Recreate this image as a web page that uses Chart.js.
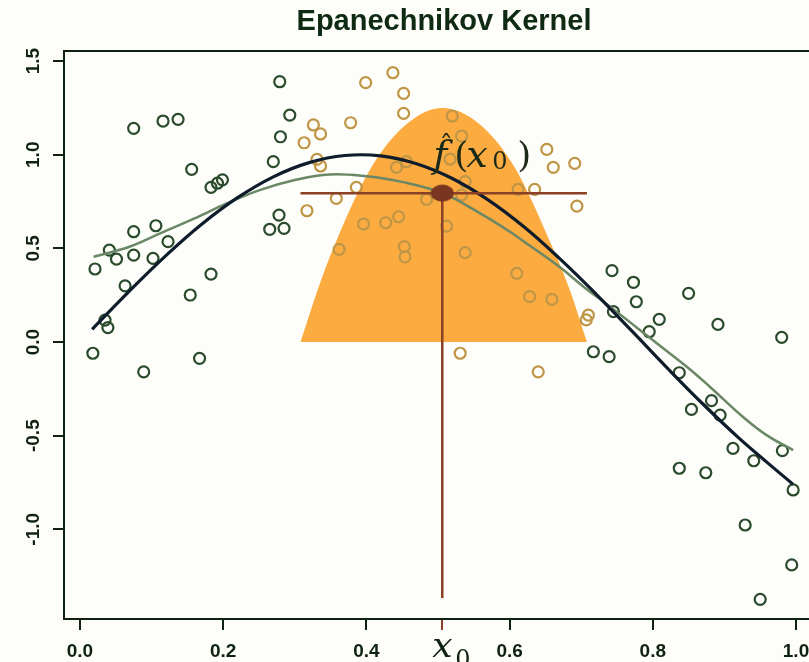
<!DOCTYPE html>
<html>
<head>
<meta charset="utf-8">
<title>Epanechnikov Kernel</title>
<script src="https://cdn.jsdelivr.net/npm/chart.js@4.4.1/dist/chart.umd.min.js"></script>
<style>
  html, body { margin: 0; padding: 0; background: #fdfdf9; overflow: hidden; }
  canvas { display: block; }
</style>
</head>
<body>
<canvas id="kernelChart" width="809" height="662"></canvas>
<script>
// axis ticks
const xTicks = [0, 0.2, 0.4, 0.6, 0.8, 1.0];
const yTicks = [-1.0, -0.5, 0, 0.5, 1.0, 1.5];

// target point and local estimate
const x0 = 0.506;
const fHatX0 = 0.795;
const windowLo = 0.308;
const windowHi = 0.708;
const lineBottom = -1.367;

// observations outside the kernel window (green)
const outsideX = [0.279, 0.293, 0.280, 0.270, 0.075, 0.116, 0.137, 0.156, 0.183, 0.192, 0.199,
  0.278, 0.265, 0.285, 0.075, 0.106, 0.123, 0.041, 0.051, 0.075, 0.102, 0.021, 0.063, 0.183,
  0.154, 0.035, 0.039, 0.018, 0.089, 0.167, 0.717, 0.739, 0.743, 0.773, 0.777, 0.745, 0.850,
  0.809, 0.795, 0.891, 0.980, 0.837, 0.854, 0.882, 0.894, 0.912, 0.941, 0.981, 0.996, 0.837,
  0.874, 0.929, 0.994, 0.950];
const outsideY = [1.390, 1.212, 1.096, 0.963, 1.141, 1.180, 1.189, 0.922, 0.826, 0.848, 0.866,
  0.678, 0.602, 0.607, 0.589, 0.621, 0.536, 0.491, 0.443, 0.464, 0.447, 0.390, 0.300, 0.363,
  0.251, 0.117, 0.077, -0.060, -0.159, -0.087, -0.052, -0.078, 0.381, 0.319, 0.215, 0.162, 0.260,
  0.121, 0.055, 0.094, 0.025, -0.164, -0.360, -0.313, -0.390, -0.568, -0.634, -0.580, -0.790, -0.674,
  -0.698, -0.977, -1.190, -1.374];

// observations inside the kernel window (orange)
const insideX = [0.437, 0.399, 0.452, 0.452, 0.378, 0.326, 0.336, 0.313, 0.520, 0.533, 0.517,
  0.331, 0.336, 0.442, 0.456, 0.538, 0.652, 0.661, 0.691, 0.386, 0.358, 0.317, 0.484, 0.533,
  0.612, 0.635, 0.694, 0.396, 0.427, 0.445, 0.512, 0.453, 0.454, 0.362, 0.538, 0.610, 0.628,
  0.659, 0.710, 0.707, 0.531, 0.640];
const insideY = [1.438, 1.385, 1.328, 1.221, 1.171, 1.159, 1.111, 1.064, 1.207, 1.100, 0.977,
  0.975, 0.940, 0.933, 0.963, 0.856, 1.029, 0.933, 0.954, 0.826, 0.767, 0.701, 0.762, 0.785,
  0.815, 0.815, 0.726, 0.630, 0.637, 0.669, 0.619, 0.509, 0.455, 0.495, 0.477, 0.367, 0.242,
  0.228, 0.144, 0.118, -0.060, -0.159];

// kernel weights (scaled) over the window
const kernelX = [0.308, 0.333, 0.358, 0.408, 0.458, 0.506, 0.556, 0.606, 0.656, 0.683, 0.708];
const kernelY = [0.00, 0.29, 0.54, 0.94, 1.17, 1.25, 1.17, 0.94, 0.54, 0.29, 0.00];

// true function (dark curve)
const trueX = [0.017, 0.07, 0.123, 0.17, 0.219, 0.27, 0.32, 0.37, 0.42, 0.47, 0.52, 0.57,
  0.62, 0.67, 0.72, 0.77, 0.82, 0.87, 0.92, 0.96, 0.996];
const trueY = [0.068, 0.276, 0.472, 0.629, 0.768, 0.882, 0.958, 0.996, 0.994, 0.952, 0.873,
  0.759, 0.615, 0.445, 0.259, 0.062, -0.138, -0.331, -0.512, -0.644, -0.760];

// kernel smoother fit (green curve)
const smoothX = [0.019, 0.07, 0.112, 0.16, 0.205, 0.25, 0.30, 0.349, 0.40, 0.45, 0.506, 0.559,
  0.60, 0.628, 0.67, 0.705, 0.74, 0.78, 0.81, 0.85, 0.88, 0.926, 0.96, 0.996];
const smoothY = [0.455, 0.51, 0.58, 0.66, 0.74, 0.81, 0.865, 0.895, 0.885, 0.855, 0.795, 0.687,
  0.59, 0.515, 0.40, 0.29, 0.19, 0.07, -0.02, -0.14, -0.24, -0.40, -0.50, -0.577];

const inkColor = '#0f2212';
const brown = '#8a4126';
const titleText = 'Epanechnikov Kernel';

function pts(xs, ys) {
  return xs.map((x, i) => ({ x: x, y: ys[i] }));
}

// filled ellipse marker for f-hat(x0)
const dotMarker = document.createElement('canvas');
dotMarker.width = 24;
dotMarker.height = 18;
(function () {
  const c = dotMarker.getContext('2d');
  c.fillStyle = '#7a3520';
  c.beginPath();
  c.ellipse(12, 9, 11.5, 8.5, 0, 0, Math.PI * 2);
  c.fill();
})();

// title, frame lines to the edge, rotated y labels, x0 and f-hat labels
const annotations = {
  id: 'annotations',
  afterDraw(chart) {
    const ctx = chart.ctx;
    const area = chart.chartArea;
    const xs = chart.scales.x;
    const ys = chart.scales.y;
    ctx.save();

    ctx.fillStyle = '#0f2a12';
    ctx.font = 'bold 29px "Liberation Sans", Arial, sans-serif';
    ctx.textAlign = 'center';
    ctx.textBaseline = 'middle';
    ctx.fillText(titleText, 444, 22);

    ctx.strokeStyle = inkColor;
    ctx.lineWidth = 2;
    ctx.beginPath();
    ctx.moveTo(area.left - 1, area.top);
    ctx.lineTo(chart.width, area.top);
    ctx.moveTo(area.right - 1, area.bottom);
    ctx.lineTo(chart.width, area.bottom);
    ctx.stroke();

    ctx.fillStyle = inkColor;
    ctx.font = 'bold 19px "Liberation Sans", Arial, sans-serif';
    ctx.textAlign = 'center';
    ctx.textBaseline = 'alphabetic';
    yTicks.forEach(v => {
      ctx.save();
      ctx.translate(39, ys.getPixelForValue(v));
      ctx.rotate(-Math.PI / 2);
      ctx.fillText(v.toFixed(1), 0, 0);
      ctx.restore();
    });

    // x0 label under the axis
    const px = xs.getPixelForValue(x0);
    ctx.textAlign = 'left';
    ctx.font = 'italic 36px "DejaVu Serif", serif';
    ctx.fillText('x', px - 10, 657);
    ctx.font = '24px "DejaVu Serif", serif';
    ctx.fillText('0', px + 13, 667);

    // f-hat(x0) label
    const py = ys.getPixelForValue(fHatX0);
    const base = py - 26;
    ctx.fillStyle = '#1a2a18';
    ctx.font = 'italic 38px "DejaVu Serif", serif';
    ctx.fillText('f', px - 9, base);
    ctx.font = '28px "DejaVu Serif", serif';
    ctx.textAlign = 'center';
    ctx.fillText('\u02C6', px + 4, base - 12);
    ctx.textAlign = 'left';
    ctx.font = '36px "DejaVu Serif", serif';
    ctx.fillText('(', px + 12, base);
    ctx.font = 'italic 38px "DejaVu Serif", serif';
    ctx.fillText('x', px + 24, base);
    ctx.font = '24px "DejaVu Serif", serif';
    ctx.fillText('0', px + 50, base + 2);
    ctx.font = '36px "DejaVu Serif", serif';
    ctx.fillText(')', px + 75, base);

    ctx.restore();
  }
};

const chart = new Chart(document.getElementById('kernelChart'), {
  type: 'scatter',
  data: {
    datasets: [
      {
        type: 'line',
        data: pts(kernelX, kernelY),
        borderWidth: 0,
        borderColor: 'rgba(0,0,0,0)',
        backgroundColor: '#fbab40',
        fill: 'origin',
        pointRadius: 0,
        cubicInterpolationMode: 'monotone',
        order: 10
      },
      {
        data: pts(outsideX, outsideY),
        pointRadius: 5.5,
        pointBorderWidth: 2.2,
        borderColor: '#2a4b2c',
        backgroundColor: 'rgba(0,0,0,0)',
        order: 8
      },
      {
        data: pts(insideX, insideY),
        pointRadius: 5.5,
        pointBorderWidth: 2.2,
        borderColor: '#bf9546',
        backgroundColor: 'rgba(0,0,0,0)',
        order: 7
      },
      {
        type: 'line',
        data: pts(smoothX, smoothY),
        borderColor: '#6a8766',
        borderWidth: 2.5,
        pointRadius: 0,
        fill: false,
        tension: 0.4,
        order: 6
      },
      {
        type: 'line',
        data: pts(trueX, trueY),
        borderColor: '#0f1c2c',
        borderWidth: 3.2,
        pointRadius: 0,
        fill: false,
        tension: 0.4,
        order: 5
      },
      {
        type: 'line',
        data: [{ x: windowLo, y: fHatX0 }, { x: windowHi, y: fHatX0 }],
        borderColor: brown,
        borderWidth: 2.5,
        pointRadius: 0,
        fill: false,
        order: 3
      },
      {
        type: 'line',
        data: [{ x: x0, y: fHatX0 }, { x: x0, y: lineBottom }],
        borderColor: brown,
        borderWidth: 2.5,
        pointRadius: 0,
        fill: false,
        order: 3
      },
      {
        data: [{ x: x0, y: fHatX0 }],
        pointStyle: dotMarker,
        order: 1
      }
    ]
  },
  options: {
    responsive: false,
    animation: false,
    events: [],
    layout: { padding: { top: 51, left: 0, right: 0, bottom: 0 } },
    plugins: {
      legend: { display: false },
      tooltip: { enabled: false },
      title: { display: false }
    },
    scales: {
      x: {
        type: 'linear',
        min: -0.0223,
        max: 1.0074,
        afterBuildTicks: scale => {
          scale.ticks = xTicks.concat([x0]).sort((a, b) => a - b).map(v => ({ value: v }));
        },
        afterFit: scale => {
          scale.height = 43;
          scale.paddingLeft = 0;
          scale.paddingRight = 0;
        },
        ticks: {
          autoSkip: false,
          maxRotation: 0,
          padding: 10,
          color: inkColor,
          font: { family: '"Liberation Sans", Arial, sans-serif', size: 19, weight: 'bold' },
          callback: v => (v === x0 ? '' : v.toFixed(1))
        },
        grid: {
          drawOnChartArea: false,
          tickLength: 11,
          lineWidth: 2,
          color: c => (c.tick && c.tick.value === x0 ? brown : inkColor)
        },
        border: { display: true, color: inkColor, width: 2 }
      },
      y: {
        type: 'linear',
        min: -1.479,
        max: 1.554,
        afterBuildTicks: scale => {
          scale.ticks = yTicks.map(v => ({ value: v }));
        },
        afterFit: scale => {
          scale.width = 64;
          scale.paddingTop = 0;
          scale.paddingBottom = 0;
        },
        ticks: { display: false },
        grid: {
          drawOnChartArea: false,
          tickLength: 11,
          lineWidth: 2,
          color: inkColor
        },
        border: { display: true, color: inkColor, width: 2 }
      }
    }
  },
  plugins: [annotations]
});
</script>
</body>
</html>
